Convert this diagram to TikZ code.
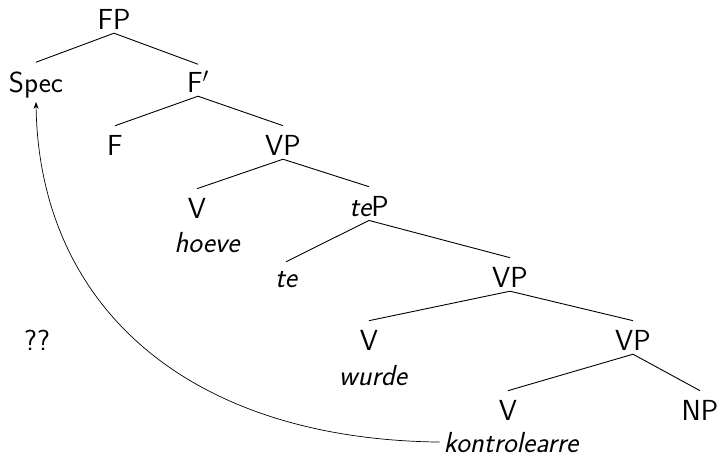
\documentclass[tikz,border=0pt]{standalone}
\usetikzlibrary{arrows.meta}
\begin{document}
\begin{tikzpicture}[x=1pt,y=-1pt,
  lbl/.style={anchor=base,inner sep=4pt,font=\fontsize{29}{34}\selectfont\sffamily},
  edge/.style={line width=0.9pt},
  mvarrow/.style={line width=0.7pt,-{Stealth[length=7pt,width=5pt]}}]
\useasboundingbox (0,0) rectangle (722,461);
\node[lbl] (fp)   at (114,29) {FP};
\node[lbl] (spec) at (36,92)  {Spec};
\node[lbl] (fbar) at (198,92) {F$'$};
\node[lbl] (f)    at (115,155) {F};
\node[lbl] (vp1)  at (283,155) {VP};
\node[lbl] (v1)   at (197,218) {V};
\node[lbl] (hoeve) at (207,252) {\slshape hoeve};
\node[lbl] (tep)  at (369,216) {{\slshape te}P};
\node[lbl] (te)   at (286,287) {\slshape te};
\node[lbl] (vp2)  at (510,287) {VP};
\node[lbl] (v2)   at (369,350) {V};
\node[lbl] (wurde) at (373,385) {\slshape wurde};
\node[lbl] (vp3)  at (633,350) {VP};
\node[lbl] (v3)   at (508,420) {V};
\node[lbl] (np)   at (700,420) {NP};
\node[lbl] (kon)  at (511,452) {\slshape kontrolearre};
\node[lbl] (qq)   at (37,350) {??};
\draw[edge] (fp.south) -- ([yshift=5]spec.north);
\draw[edge] (fp.south) -- ([yshift=3]fbar.north);
\draw[edge] (fbar.south) -- ([yshift=5]f.north);
\draw[edge] (fbar.south) -- ([yshift=5]vp1.north);
\draw[edge] (vp1.south) -- ([yshift=5]v1.north);
\draw[edge] (vp1.south) -- ([yshift=5]tep.north);
\draw[edge] (tep.south) -- ([yshift=5]te.north);
\draw[edge] (tep.south) -- ([yshift=5]vp2.north);
\draw[edge] (vp2.south) -- ([yshift=5]v2.north);
\draw[edge] (vp2.south) -- ([yshift=5]vp3.north);
\draw[edge] (vp3.south) -- ([yshift=5]v3.north);
\draw[edge] (vp3.south) -- ([yshift=5]np.north);
\draw[mvarrow] (kon.west) .. controls +(-255,-3) and +(3,202) .. (spec.south);
\end{tikzpicture}
\end{document}
